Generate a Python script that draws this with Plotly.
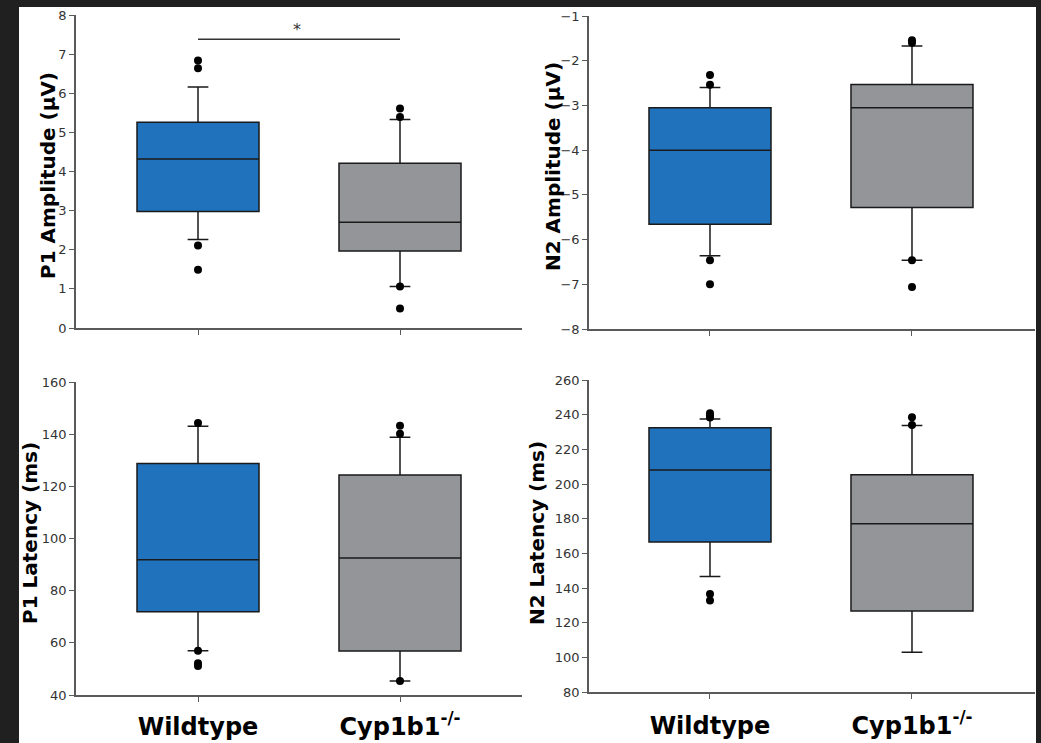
import plotly.graph_objects as go

W, H = 1041, 743

groups = ["Wildtype", "Cyp1b1<sup>-/-</sup>"]
group_pos = [0, 1]
fill_colors = ["#1f72bb", "#939598"]

# P1 amplitude (µV)
p1amp_q1 = [2.98, 1.97]
p1amp_med = [4.32, 2.70]
p1amp_q3 = [5.26, 4.21]
p1amp_lo = [2.26, 1.06]
p1amp_hi = [6.16, 5.33]
p1amp_out = [[6.84, 6.64, 2.11, 1.49], [5.61, 5.39, 1.06, 0.50]]

# N2 amplitude (µV)
n2amp_q1 = [-5.66, -5.28]
n2amp_med = [-4.00, -3.05]
n2amp_q3 = [-3.05, -2.53]
n2amp_lo = [-6.36, -6.46]
n2amp_hi = [-2.60, -1.67]
n2amp_out = [[-2.32, -2.54, -6.46, -7.00], [-1.54, -1.60, -6.46, -7.06]]

# P1 latency (ms)
p1lat_q1 = [71.9, 56.9]
p1lat_med = [91.9, 92.5]
p1lat_q3 = [128.8, 124.3]
p1lat_lo = [57.0, 45.4]
p1lat_hi = [143.0, 138.8]
p1lat_out = [[144.3, 57.0, 52.2, 51.1], [143.2, 140.2, 45.4]]

# N2 latency (ms)
n2lat_q1 = [166.5, 126.7]
n2lat_med = [208.1, 177.0]
n2lat_q3 = [232.5, 205.3]
n2lat_lo = [146.7, 102.9]
n2lat_hi = [237.5, 233.7]
n2lat_out = [[240.8, 239.6, 238.3, 136.5, 132.8], [238.5, 234.1]]

panels = [
    ("x", "y", p1amp_q1, p1amp_med, p1amp_q3, p1amp_lo, p1amp_hi, p1amp_out),
    ("x2", "y2", n2amp_q1, n2amp_med, n2amp_q3, n2amp_lo, n2amp_hi, n2amp_out),
    ("x3", "y3", p1lat_q1, p1lat_med, p1lat_q3, p1lat_lo, p1lat_hi, p1lat_out),
    ("x4", "y4", n2lat_q1, n2lat_med, n2lat_q3, n2lat_lo, n2lat_hi, n2lat_out),
]

fig = go.Figure()
for xa, ya, q1, med, q3, lo, hi, outs in panels:
    for i in range(2):
        fig.add_trace(go.Box(
            x=[group_pos[i]], q1=[q1[i]], median=[med[i]], q3=[q3[i]],
            lowerfence=[lo[i]], upperfence=[hi[i]],
            fillcolor=fill_colors[i], line=dict(color="#1a1a1a", width=1.5),
            whiskerwidth=0.17, width=0.604, boxpoints=False,
            xaxis=xa, yaxis=ya, showlegend=False, hoverinfo="skip"))
        fig.add_trace(go.Scatter(
            x=[group_pos[i]] * len(outs[i]), y=outs[i], mode="markers",
            marker=dict(color="black", size=8),
            xaxis=xa, yaxis=ya, showlegend=False, hoverinfo="skip"))

def px_x(p):
    return p / W

def px_y(p):
    return 1 - p / H

axis_common = dict(showline=True, linecolor="#5a5a5a", linewidth=1.5,
                   ticks="outside", tickcolor="#5a5a5a", ticklen=5, tickwidth=1.2,
                   showgrid=False, zeroline=False, automargin=False,
                   tickfont=dict(family="DejaVu Sans", size=13, color="#333333"))
axis_nofont = {k: v for k, v in axis_common.items() if k != "tickfont"}
cat_font = dict(family="DejaVu Sans", size=24, color="black", weight="bold")

xl = [px_x(76), px_x(522)]
xr = [px_x(589), px_x(1035)]
xrange_l = [-0.604, 1.604]
xrange_r = [-0.599, 1.609]

layout = dict(
    width=W, height=H, margin=dict(l=0, r=0, t=0, b=0, autoexpand=False),
    paper_bgcolor="#202020", plot_bgcolor="rgba(0,0,0,0)",
    boxmode="overlay",
    xaxis=dict(domain=xl, range=xrange_l, anchor="y", tickvals=group_pos,
               showticklabels=False, **axis_common),
    yaxis=dict(domain=[px_y(328), px_y(15)], range=[0, 8], anchor="x",
               tickvals=list(range(0, 9)), **axis_common),
    xaxis2=dict(domain=xr, range=xrange_r, anchor="y2", tickvals=group_pos,
                showticklabels=False, **axis_common),
    yaxis2=dict(domain=[px_y(329), px_y(16)], range=[-8, -1], anchor="x2",
                tickvals=list(range(-8, 0)), **axis_common),
    xaxis3=dict(domain=xl, range=xrange_l, anchor="y3", tickvals=group_pos,
                ticktext=groups, tickfont=cat_font, ticklabelstandoff=4, **axis_nofont),
    yaxis3=dict(domain=[px_y(695), px_y(382)], range=[40, 160], anchor="x3",
                tickvals=list(range(40, 161, 20)), **axis_common),
    xaxis4=dict(domain=xr, range=xrange_r, anchor="y4", tickvals=group_pos,
                ticktext=groups, tickfont=cat_font, ticklabelstandoff=6, **axis_nofont),
    yaxis4=dict(domain=[px_y(692), px_y(380)], range=[80, 260], anchor="x4",
                tickvals=list(range(80, 261, 20)), **axis_common),
)
fig.update_layout(**layout)

# white panel behind the charts
fig.add_shape(type="rect", xref="paper", yref="paper",
              x0=px_x(19), x1=px_x(1036), y0=-0.02, y1=px_y(7),
              fillcolor="white", line=dict(width=0), layer="below")

# significance bar
fig.add_shape(type="line", xref="x", yref="y", x0=group_pos[0], x1=group_pos[1],
              y0=7.38, y1=7.38, line=dict(color="#333333", width=1.5))
fig.add_annotation(xref="x", yref="y", x=0.49, y=7.62, text="*", showarrow=False,
                   font=dict(family="DejaVu Sans", size=16, color="#333333"))

# axis titles
titles = [
    ("P1 Amplitude (µV)", 48, 176),
    ("N2 Amplitude (µV)", 553, 167),
    ("P1 Latency (ms)", 30, 533),
    ("N2 Latency (ms)", 537, 533),
]
for txt, cx, cy in titles:
    fig.add_annotation(xref="paper", yref="paper", x=px_x(cx), y=px_y(cy),
                       text=txt, textangle=-90, showarrow=False,
                       xanchor="center", yanchor="middle",
                       font=dict(family="DejaVu Sans", size=20, color="black", weight="bold"))

fig.write_html("out.html", config={"displayModeBar": False},
               post_script="document.body.style.margin='0';document.body.style.overflow='hidden';")
